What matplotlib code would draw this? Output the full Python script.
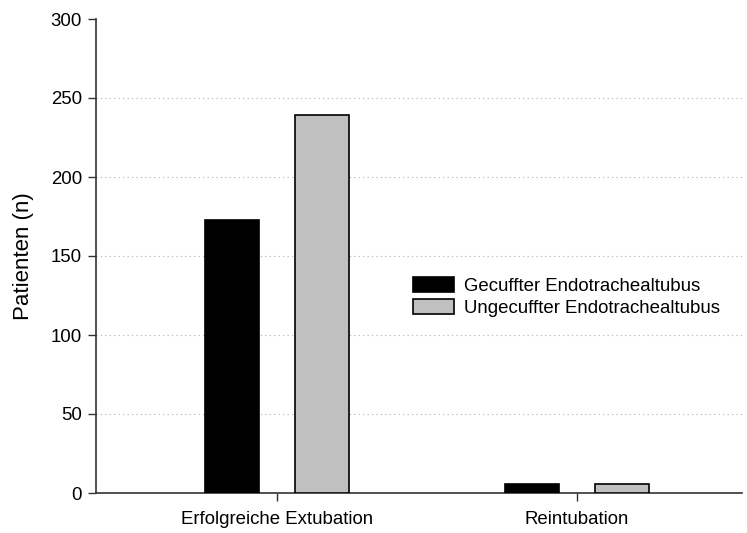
import matplotlib
matplotlib.use("Agg")
import matplotlib.pyplot as plt
import numpy as np

plt.rcParams['font.family'] = ['Liberation Sans', 'DejaVu Sans']

categories = ["Erfolgreiche Extubation", "Reintubation"]
series_names = ["Gecuffter Endotrachealtubus", "Ungecuffter Endotrachealtubus"]
gecufft = [173, 6]
ungecufft = [239, 6]
yticks = [0, 50, 100, 150, 200, 250, 300]

fig = plt.figure(figsize=(7.47, 5.33), dpi=100)
ax = fig.add_axes([96/747, 40/533, 646/747, 474/533])

x = np.arange(len(categories))
w = 0.18
ax.bar(x - 0.15, gecufft, w, color='black', edgecolor='black', linewidth=1.2,
       label=series_names[0], zorder=3)
ax.bar(x + 0.15, ungecufft, w, color='#c0c0c0', edgecolor='black', linewidth=1.2,
       label=series_names[1], zorder=3)

ax.set_xlim(-0.603, 1.55)
ax.set_ylim(0, 300)
ax.set_yticks(yticks)
ax.set_xticks(x)
ax.set_xticklabels(categories)
ax.tick_params(axis='both', direction='out', labelsize=13.4, length=6, width=1, color='#333333')
ax.tick_params(axis='y', pad=4)
ax.tick_params(axis='x', pad=7)
for s in ['top', 'right']:
    ax.spines[s].set_visible(False)
for s in ['left', 'bottom']:
    ax.spines[s].set_linewidth(1.2)
    ax.spines[s].set_color('#333333')
for yv in yticks[1:-1]:
    ax.axhline(yv, color='#b0b0b0', linestyle=(0, (1, 3)), linewidth=0.8, zorder=1)
ax.set_ylabel("Patienten (n)", fontsize=16, labelpad=12)

leg = fig.legend(loc='upper left', bbox_to_anchor=(404/747, 1 - 268/533), frameon=False,
                 fontsize=13.4, handlelength=2.2, handleheight=0.85, borderpad=0,
                 labelspacing=0.2, handletextpad=0.55)

fig.savefig("out.png", dpi=100)
